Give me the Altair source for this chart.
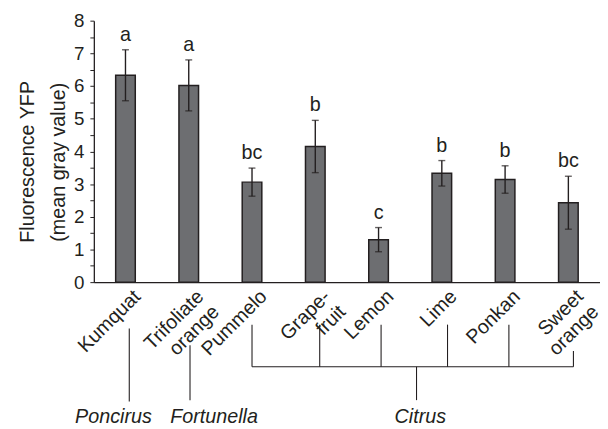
import altair as alt
import pandas as pd

# ---- data ----
categories = ["Kumquat", "Trifoliate\norange", "Pummelo", "Grape-\nfruit",
              "Lemon", "Lime", "Ponkan", "Sweet\norange"]
means = [6.33, 6.02, 3.06, 4.15, 1.30, 3.33, 3.14, 2.43]
errors = [0.78, 0.78, 0.43, 0.80, 0.37, 0.39, 0.42, 0.81]
letters = ["a", "a", "bc", "b", "c", "b", "b", "bc"]
y_ticks = [0, 0.5, 1, 1.5, 2, 2.5, 3, 3.5, 4, 4.5, 5, 5.5, 6, 6.5, 7, 7.5, 8]

# grouping tree under the axis (x in bar-index units, y in value units)
seg_x1 = [0.56, 1.52, 2.50, 3.57, 4.54, 5.59, 6.56, 7.58, 2.50, 5.10]
seg_x2 = [0.56, 1.52, 2.50, 3.57, 4.54, 5.59, 6.56, 7.58, 7.58, 5.10]
seg_y1 = [-1.42, -1.93, -1.30, -1.30, -1.30, -1.30, -1.30, -2.11, -2.59, -2.59]
seg_y2 = [-3.65, -3.61, -2.59, -2.59, -2.59, -2.59, -2.59, -2.59, -2.59, -3.61]
genus_names = ["Poncirus", "Fortunella", "Citrus"]
genus_x = [0.31, 1.90, 5.16]
genus_y = [-4.30, -4.30, -4.30]

# y-axis title: first line drawn as a text, second line is the axis title
title_line1 = "Fluorescence YFP"
title_line2 = "(mean gray value)"
title1_x = [-1.04]
title1_y = [3.68]

INK = "#231f20"
FONT = "Liberation Sans"

df = pd.DataFrame({"cat": categories, "mean": means, "err": errors, "letter": letters})
df["lo"] = df["mean"] - df["err"]
df["hi"] = df["mean"] + df["err"]

segs = pd.DataFrame({"x1": seg_x1, "x2": seg_x2, "y1": seg_y1, "y2": seg_y2})
genus = pd.DataFrame({"name": genus_names, "x": genus_x, "y": genus_y})
t1 = pd.DataFrame({"name": [title_line1], "x": title1_x, "y": title1_y})

x_axis = alt.Axis(labelAngle=-45, labelAlign="right", labelBaseline="top",
                  labelFontSize=20, labelFont=FONT, labelColor=INK,
                  labelPadding=4, labelOffset=5, ticks=False,
                  domainColor=INK, domainWidth=1.3, labelLimit=200,
                  labelExpr="split(datum.label, '\\n')", labelLineHeight=22)
xscale = alt.Scale(paddingInner=0.69, paddingOuter=0.345)
yscale = alt.Scale(domain=[0, 8], nice=False)
y_axis = alt.Axis(
    values=y_ticks,
    labelExpr="datum.value % 1 == 0 ? format(datum.value, 'd') : ''",
    labelOverlap=False,
    title=title_line2,
    titleFontSize=20, titleFont=FONT, titleFontWeight="normal", titleColor=INK,
    titlePadding=5, titleY=143,
    labelFontSize=19, labelFont=FONT, labelColor=INK, labelPadding=6,
    tickSize=4, tickColor=INK, domainColor=INK, domainWidth=1.3, grid=False,
)


def X():
    return alt.X("cat:N", sort=categories, title=None, scale=xscale, axis=x_axis)


def Y(field):
    return alt.Y(field, scale=yscale, axis=y_axis)


base = alt.Chart(df)
bars = base.mark_bar(color="#6d6e71", stroke=INK, strokeWidth=1.5).encode(
    x=X(), y=Y("mean:Q")
)
err = base.mark_rule(color=INK, strokeWidth=1.4).encode(
    x=X(), y=Y("lo:Q"), y2="hi:Q"
)
cap_hi = base.mark_tick(color=INK, size=7, thickness=1.4).encode(x=X(), y=Y("hi:Q"))
cap_lo = base.mark_tick(color=INK, size=7, thickness=1.4).encode(x=X(), y=Y("lo:Q"))
txt = base.mark_text(font=FONT, fontSize=20, color=INK, baseline="bottom", dy=-5).encode(
    x=X(), y=Y("hi:Q"), text="letter:N"
)
main = alt.layer(bars, err, cap_hi, cap_lo, txt)

xq = alt.Scale(domain=[0, 8], nice=False, zero=False)
yq = alt.Scale(domain=[0, 8], nice=False)
tree = alt.Chart(segs).mark_rule(color=INK, strokeWidth=1.1).encode(
    x=alt.X("x1:Q", scale=xq, axis=None), x2="x2:Q",
    y=alt.Y("y1:Q", scale=yq, axis=None), y2="y2:Q",
)
gtext = alt.Chart(genus).mark_text(
    font=FONT, fontSize=20, fontStyle="italic", color=INK, baseline="alphabetic"
).encode(
    x=alt.X("x:Q", scale=xq, axis=None),
    y=alt.Y("y:Q", scale=yq, axis=None),
    text="name:N",
)
ttext = alt.Chart(t1).mark_text(
    font=FONT, fontSize=20, color=INK, angle=270, align="center", baseline="middle"
).encode(
    x=alt.X("x:Q", scale=xq, axis=None),
    y=alt.Y("y:Q", scale=yq, axis=None),
    text="name:N",
)
annot = alt.layer(tree, gtext, ttext)

chart = (
    alt.layer(main, annot)
    .resolve_scale(x="independent", y="independent")
    .properties(
        width=513, height=265,
        padding={"left": 87, "top": 10, "right": 0, "bottom": 146},
        autosize=alt.AutoSizeParams(type="none"),
    )
    .configure(view=alt.ViewConfig(stroke=None))
)

chart.save("out.html", embed_options={"renderer": "svg", "actions": False})
